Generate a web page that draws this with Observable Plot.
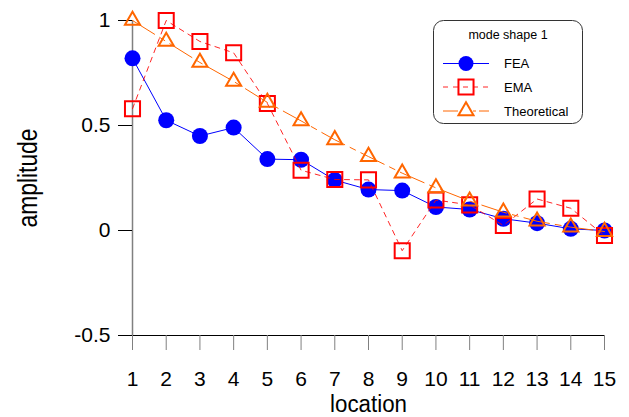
<!DOCTYPE html>
<html>
<head>
<meta charset="utf-8">
<script src="https://cdn.jsdelivr.net/npm/d3@7"></script>
<script src="https://cdn.jsdelivr.net/npm/@observablehq/plot@0.6"></script>
<style>
  html, body { margin: 0; padding: 0; background: #fff; }
  svg { display: block; }
</style>
</head>
<body>
<div id="chart"></div>
<script>
// ---- data ----
const locations = [1, 2, 3, 4, 5, 6, 7, 8, 9, 10, 11, 12, 13, 14, 15];
const fea = [0.82, 0.525, 0.45, 0.49, 0.34, 0.337, 0.24, 0.195, 0.19, 0.112, 0.1, 0.056, 0.035, 0.008, 0.0];
const ema = [0.58, 1.0, 0.9, 0.846, 0.605, 0.287, 0.243, 0.241, -0.096, 0.145, 0.122, 0.024, 0.15, 0.106, -0.024];
const theoretical = [1.0, 0.9, 0.8, 0.71, 0.61, 0.522, 0.432, 0.352, 0.273, 0.203, 0.14, 0.087, 0.044, 0.016, -0.005];
const yTicks = [-0.5, 0, 0.5, 1];
const seriesNames = ["FEA", "EMA", "Theoretical"];
const legendTitle = "mode shape 1";
const xLabel = "location";
const yLabel = "amplitude";

const colors = { FEA: "#0000ff", EMA: "#ff0000", Theoretical: "#ff6600" };

const rows = (vals) => locations.map((x, i) => ({ x, y: vals[i] }));
const feaRows = rows(fea), emaRows = rows(ema), theoRows = rows(theoretical);

const font = "'Liberation Sans', Arial, sans-serif";
const narrow = "'Liberation Sans Narrow', 'Arial Narrow', 'Liberation Sans', Arial, sans-serif";

const chart = Plot.plot({
  width: 629,
  height: 417,
  marginLeft: 132,
  marginRight: 25,
  marginTop: 20,
  marginBottom: 82,
  style: { fontFamily: font, fontSize: "21px", background: "#fff", color: "#000", overflow: "visible" },
  x: { domain: [1, 15] },
  y: { domain: [-0.5, 1] },
  marks: [
    Plot.ruleX([1], { y1: -0.5, y2: 1, stroke: "#808080", strokeWidth: 1.5 }),
    Plot.ruleY([-0.5], { x1: 1, x2: 15, stroke: "#000" }),
    Plot.axisX({ ticks: locations, tickSize: 15, tickPadding: 21, stroke: "#808080", tickFormat: d => String(d), label: null, fontSize: 21 }),
    Plot.axisY({ ticks: yTicks, tickSize: 14, tickPadding: 8, stroke: "#000", tickFormat: d => String(d), label: null, fontSize: 21 }),

    Plot.line(feaRows, { x: "x", y: "y", stroke: colors.FEA, strokeWidth: 1 }),
    Plot.dot(feaRows, { x: "x", y: "y", r: 8, fill: colors.FEA, symbol: "circle" }),

    Plot.line(emaRows, { x: "x", y: "y", stroke: colors.EMA, strokeWidth: 1, strokeDasharray: "5,5", strokeOpacity: 0.85 }),
    Plot.dot(emaRows, { x: "x", y: "y", r: 8.5, symbol: "square", fill: "none", stroke: colors.EMA, strokeWidth: 2 }),

    Plot.line(theoRows, { x: "x", y: "y", stroke: colors.Theoretical, strokeWidth: 1, strokeDasharray: "26,6,6,6" }),
    Plot.dot(theoRows, { x: "x", y: "y", r: 5.6, symbol: "triangle", fill: "none", stroke: colors.Theoretical, strokeWidth: 2 })
  ]
});

const svg = d3.select(chart);

// ---- axis titles ----
svg.append("text").attr("x", 368.5).attr("y", 411.5).attr("text-anchor", "middle")
  .attr("font-family", narrow).attr("font-size", 23.5).attr("fill", "#000")
  .attr("textLength", 77).attr("lengthAdjust", "spacingAndGlyphs").text(xLabel);
svg.append("text").attr("transform", "translate(36.5,178) rotate(-90)").attr("text-anchor", "middle")
  .attr("font-family", narrow).attr("font-size", 27).attr("fill", "#000")
  .attr("textLength", 99).attr("lengthAdjust", "spacingAndGlyphs").text(yLabel);

// ---- legend ----
const lg = svg.append("g").attr("font-family", font).attr("text-anchor", "start");
lg.append("rect").attr("x", 433.5).attr("y", 20.5).attr("width", 149).attr("height", 103)
  .attr("rx", 10).attr("fill", "#fff").attr("stroke", "#333").attr("stroke-width", 1);
lg.append("text").attr("x", 508).attr("y", 35).attr("text-anchor", "middle").attr("dy", "0.35em")
  .attr("font-size", 12.5).attr("fill", "#000").text(legendTitle);

const entryY = [63.5, 87, 111];
const dashes = { FEA: null, EMA: "5,5", Theoretical: "15,15,3,3" };
seriesNames.forEach((name, i) => {
  const y = entryY[i];
  lg.append("line").attr("x1", 443).attr("x2", 489).attr("y1", y).attr("y2", y)
    .attr("stroke", colors[name]).attr("stroke-width", 1)
    .attr("stroke-dasharray", dashes[name]).attr("stroke-opacity", name === "EMA" ? 0.85 : 1);
  const sym = name === "FEA" ? d3.symbolCircle : name === "EMA" ? d3.symbolSquare : d3.symbolTriangle;
  const r = name === "FEA" ? 7.5 : name === "EMA" ? 8.5 : 5.6;
  const p = lg.append("path").attr("transform", `translate(466,${y})`)
    .attr("d", d3.symbol(sym, Math.PI * r * r)());
  if (name === "FEA") p.attr("fill", colors[name]);
  else p.attr("fill", "none").attr("stroke", colors[name]).attr("stroke-width", 2);
  lg.append("text").attr("x", 504).attr("y", y).attr("dy", "0.35em").attr("font-size", 13)
    .attr("text-anchor", "start").attr("fill", "#000").text(name);
});

document.getElementById("chart").appendChild(chart);
</script>
</body>
</html>
